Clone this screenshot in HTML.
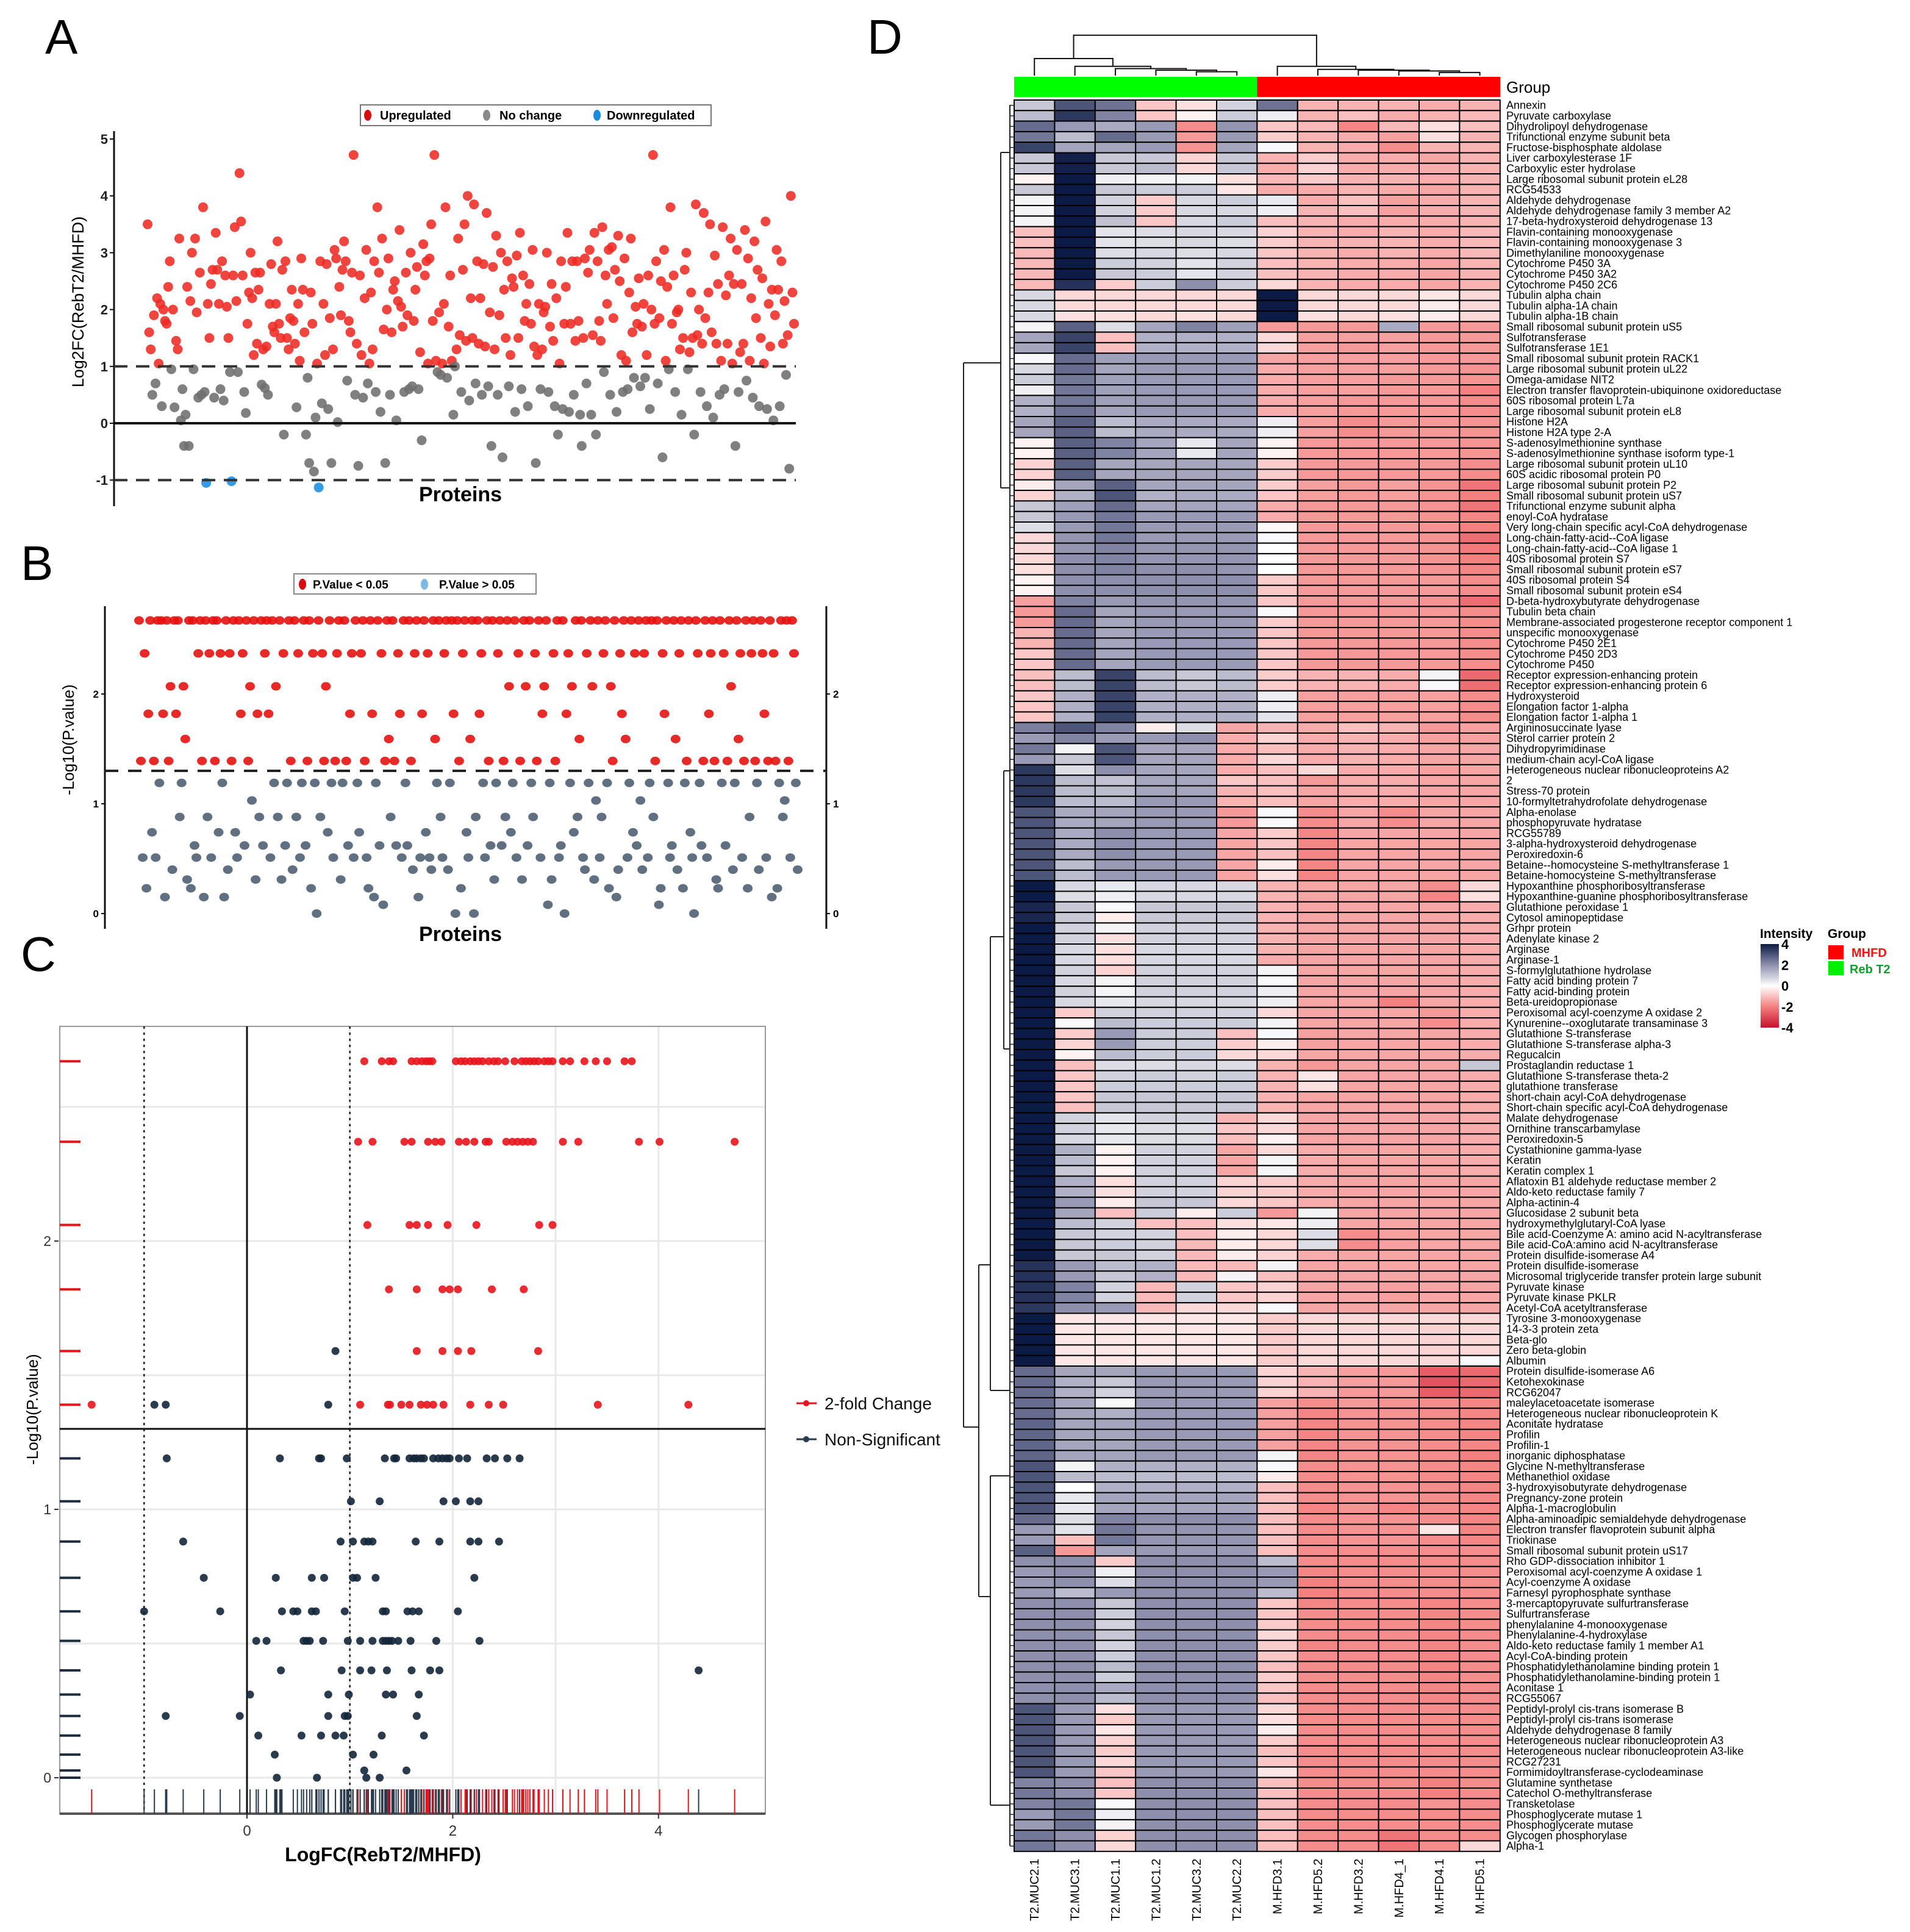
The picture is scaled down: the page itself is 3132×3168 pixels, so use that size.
<!DOCTYPE html>
<html><head><meta charset="utf-8"><style>
html,body{margin:0;padding:0;background:#fff}
svg{display:block}
text{font-family:"Liberation Sans",sans-serif}
.rl{font-family:"Liberation Sans Narrow","Liberation Sans",sans-serif;font-size:18px}
</style></head><body>
<svg id="fig" xmlns="http://www.w3.org/2000/svg" width="3132" height="3168" viewBox="0 0 3132 3168">
<rect x="0" y="0" width="3132" height="3168" fill="#fff"/>
<text x="74" y="88" font-size="80">A</text>
<text x="34" y="951" font-size="80">B</text>
<text x="34" y="1592" font-size="80">C</text>
<text x="1422" y="88" font-size="80">D</text>
<g id="gA"></g>
<g id="gB"></g>
<g id="gC"></g>
<g id="gD"></g>
</svg>
<script>
// ---------- Panel A data ----------
const aLog2FC=[3.5,1.6,1.3,0.5,1.9,0.7,2.2,1.05,2.1,0.3,2.0,1.8,1.75,2.4,2.85,0.95,2.0,0.28,1.45,1.3,
3.25,0.05,0.6,-0.4,0.15,2.4,-0.4,2.15,3.0,0.95,3.25,1.95,0.45,2.65,0.5,3.8,0.55,-1.05,2.1,1.5,
2.45,2.7,0.45,3.35,2.7,2.1,0.6,2.85,0.4,2.6,2.05,1.5,0.9,-1.02,2.6,3.45,2.15,0.9,4.4,3.55,
2.6,0.55,0.18,1.75,2.3,3.0,2.2,1.2,2.65,1.4,2.35,2.65,0.68,1.3,0.62,1.35,0.5,2.1,2.8,1.7,
1.6,2.1,3.2,1.75,1.5,2.7,-0.2,2.85,1.5,1.3,1.85,2.35,1.8,1.4,0.28,2.1,1.1,2.9,2.35,1.6,
-0.2,0.8,-0.7,2.3,1.75,-0.85,0.1,1.05,-1.13,2.85,0.35,2.1,1.2,2.8,0.25,1.85,-0.7,1.3,3.05,2.9,
0.02,2.4,1.9,2.7,3.2,2.85,0.75,1.8,1.6,2.65,4.72,0.5,1.4,-0.75,2.6,1.2,0.45,2.2,3.05,0.7,
1.05,2.3,1.3,2.85,0.55,3.8,2.65,0.2,3.25,1.65,-0.7,2.0,2.9,0.5,1.6,2.35,2.5,0.05,2.15,3.4,
2.05,1.7,0.55,2.65,1.9,0.6,3.0,0.65,1.8,2.35,2.75,0.6,1.25,-0.3,3.15,2.6,2.85,1.05,2.9,3.5,
1.8,4.72,1.1,0.9,1.95,0.85,1.05,2.1,3.8,0.8,1.7,2.6,1.1,0.15,1.0,1.3,3.25,1.55,0.55,2.7,
3.5,1.45,4.0,0.4,2.2,1.5,3.85,0.7,2.85,1.4,2.2,0.5,2.8,1.35,3.7,0.65,1.95,-0.4,2.75,1.3,
3.3,0.5,1.9,3.0,-0.6,2.35,1.5,2.85,0.65,1.2,2.55,2.4,0.2,2.95,1.5,3.35,0.6,2.6,1.8,2.1,
0.3,2.45,1.75,3.05,1.35,-0.7,1.2,2.1,0.6,1.3,1.95,2.05,3.0,0.55,1.7,2.45,1.45,0.3,2.2,-0.2,
1.05,2.85,0.25,1.75,2.4,3.35,0.2,1.75,2.85,0.5,1.45,2.85,1.8,0.15,-0.4,1.5,2.9,0.7,2.65,3.05,
0.15,1.55,3.35,-0.2,2.85,1.8,1.45,3.45,0.9,2.6,2.1,3.05,0.5,3.1,1.85,2.7,0.2,3.3,2.5,1.2,
0.55,2.9,1.1,0.6,2.3,3.25,1.6,0.8,2.05,1.75,2.55,0.65,1.7,2.1,0.8,1.2,2.6,0.25,2.0,4.72,
1.75,2.85,0.7,1.85,2.5,-0.6,3.05,1.1,2.4,0.95,3.8,1.75,2.6,0.55,1.95,2.0,1.3,0.15,1.5,2.7,
3.0,0.95,1.25,2.3,1.5,-0.2,3.85,1.55,2.0,0.55,1.4,3.7,1.85,0.3,2.3,3.5,1.6,0.1,2.95,1.4,
2.45,0.5,1.1,3.45,0.6,2.25,1.4,2.6,3.25,1.05,2.45,-0.4,3.05,0.55,1.25,2.45,1.4,3.4,0.75,2.9,
1.1,2.2,0.45,3.2,1.85,2.7,0.3,1.5,2.55,1.05,3.55,0.25,2.1,1.35,2.35,0.05,1.9,3.05,2.35,0.3,
2.85,1.4,2.15,0.85,1.55,-0.8,4.0,2.3,1.75];
const aTicks=[5,4,3,2,1,0,-1];
// ---------- Panel B data ----------
const bNegLogP=[2.67,1.39,0.51,2.37,0.23,1.82,2.67,0.74,1.39,0.51,2.67,1.19,2.67,1.82,0.15,2.67,1.39,2.07,0.4,2.67,
1.82,2.67,0.88,1.19,2.07,1.59,0.31,2.67,0.23,2.67,0.62,0.51,2.37,2.67,1.39,0.15,2.67,0.88,2.37,0.51,
2.67,1.39,2.67,0.74,2.37,1.19,0.15,2.67,0.4,2.37,1.39,2.67,0.74,0.51,2.67,1.82,2.37,0.62,2.67,1.39,
2.07,1.03,2.67,0.31,1.82,0.88,2.67,0.62,2.37,2.67,1.82,0.51,2.67,1.19,2.07,0.88,2.67,0.31,2.37,0.62,
1.19,2.67,1.39,0.4,2.67,0.88,2.37,0.51,1.19,2.67,0.62,1.39,2.67,0.23,2.37,1.19,0.0,2.67,0.88,2.37,
1.39,2.07,0.74,2.67,1.19,0.51,1.39,2.37,2.67,0.31,1.19,2.67,1.39,0.62,1.82,2.37,0.51,2.67,1.19,0.74,
2.37,2.67,1.39,0.51,0.23,2.67,1.82,0.15,1.19,2.67,0.62,2.37,0.08,1.39,2.67,1.59,0.88,2.67,1.39,0.62,
2.37,1.82,0.51,2.67,1.19,0.62,2.67,1.39,0.4,2.37,2.67,0.15,0.51,1.82,2.67,0.74,2.37,0.51,0.4,2.67,
1.59,1.19,2.67,0.88,0.51,2.37,2.67,0.4,1.19,2.67,1.82,0.0,2.67,1.39,0.23,2.37,2.67,0.74,0.51,1.59,
2.67,0.0,0.88,2.67,1.82,2.37,1.19,0.51,2.67,1.39,0.62,2.67,0.31,1.19,2.37,2.67,0.62,1.39,0.88,2.67,
2.07,0.74,1.19,2.67,0.51,2.37,1.39,0.31,2.67,2.07,0.62,2.67,1.19,0.88,2.37,1.39,2.67,0.51,1.82,2.07,
2.67,0.08,1.19,0.31,2.37,1.39,2.67,0.51,0.62,2.67,0.0,1.82,2.37,1.19,2.07,0.74,2.67,0.88,1.59,2.67,
0.51,0.4,2.37,1.19,2.67,2.07,0.31,1.03,2.67,0.51,0.88,2.37,2.67,1.19,0.23,2.07,1.39,2.67,0.15,0.4,
2.37,1.82,2.67,1.59,0.51,1.19,2.67,0.74,2.37,0.62,2.67,1.03,0.4,2.37,2.67,0.51,1.19,2.67,0.88,1.39,
2.67,0.08,0.23,2.37,1.82,2.67,1.19,0.51,0.62,2.67,1.59,0.4,2.37,2.67,0.23,1.19,1.39,2.67,0.74,0.51,
0.0,2.67,2.37,1.19,0.62,1.39,2.67,0.51,1.82,2.37,2.67,1.39,0.31,0.23,2.67,1.19,2.37,0.62,1.39,2.67,
2.07,0.4,1.19,2.67,1.59,2.37,0.51,1.39,2.67,0.23,0.88,2.37,2.67,1.39,1.19,0.4,2.67,2.37,1.82,0.51,
1.39,2.67,0.15,2.37,1.39,0.23,1.19,2.67,0.88,1.03,2.67,1.39,0.51,2.67,2.37,1.19,0.4];
const bTicks=[0,1,2];
// ---------- Panel C data ----------
const cLevels=[2.67,2.37,2.06,1.82,1.59,1.39,1.19,1.03,0.88,0.745,0.62,0.51,0.40,0.31,0.23,0.157,0.086,0.027,0];
const cFCByLevel=[
[1.14,1.31,1.38,1.42,1.60,1.65,1.70,1.74,1.77,1.80,2.03,2.08,2.12,2.17,2.21,2.25,2.29,2.35,2.40,2.44,2.51,2.60,2.67,2.71,2.75,2.79,2.83,2.89,2.93,2.97,3.07,3.14,3.28,3.39,3.50,3.67,3.74],
[1.08,1.22,1.53,1.60,1.76,1.83,1.89,2.06,2.13,2.21,2.32,2.35,2.52,2.58,2.63,2.68,2.73,2.78,3.07,3.22,3.81,4.01,4.74],
[1.17,1.58,1.65,1.76,1.95,2.23,2.84,2.97],
[1.38,1.65,1.90,1.97,2.05,2.38,2.69],
[0.86,1.65,1.90,2.05,2.18,2.83],
[-1.51,-0.90,-0.79,0.79,1.10,1.37,1.39,1.50,1.58,1.69,1.75,1.81,1.91,2.17,2.35,2.49,3.41,4.29],
[-0.78,0.32,0.70,0.72,0.97,1.34,1.43,1.45,1.58,1.62,1.65,1.69,1.72,1.81,1.86,1.90,1.94,1.97,2.06,2.14,2.33,2.41,2.53,2.65],
[1.01,1.29,1.91,2.03,2.17,2.25],
[-0.62,0.91,1.03,1.14,1.18,1.22,1.64,1.87,2.17,2.25,2.45],
[-0.42,0.28,0.63,0.75,1.03,1.07,1.25,2.21],
[-1.0,-0.26,0.34,0.45,0.49,0.63,0.67,0.95,1.32,1.35,1.56,1.61,1.67,2.05],
[0.09,0.19,0.55,0.58,0.61,0.74,0.98,1.10,1.22,1.32,1.35,1.38,1.41,1.47,1.59,1.84,2.26],
[0.33,0.92,1.10,1.21,1.36,1.60,1.78,1.87,4.39],
[0.03,0.79,0.99,1.35,1.42,1.67],
[-0.79,-0.07,0.79,0.95,0.98,1.65],
[0.11,0.53,0.72,0.86,0.94,1.31,1.72],
[0.27,1.03,1.23],
[1.14,1.55],
[0.29,0.68,1.16,1.29]];
const cXTicks=[0,2,4];
const cYTicks=[0,1,2];
const cXGrid=[1,2,3,4];
const cYGrid=[0,0.5,1,1.5,2,2.5];
const cPThreshold=1.3;
const cFCThreshold=1;
// ---------- Panel D data ----------
const dSamples=["T2.MUC2.1","T2.MUC3.1","T2.MUC1.1","T2.MUC1.2","T2.MUC3.2","T2.MUC2.2","M.HFD3.1","M.HFD5.2","M.HFD3.2","M.HFD4_1","M.HFD4.1","M.HFD5.1"];
const dGroups=["Reb T2","Reb T2","Reb T2","Reb T2","Reb T2","Reb T2","MHFD","MHFD","MHFD","MHFD","MHFD","MHFD"];
const dProteins=["Annexin","Pyruvate carboxylase","Dihydrolipoyl dehydrogenase","Trifunctional enzyme subunit beta","Fructose-bisphosphate aldolase","Liver carboxylesterase 1F","Carboxylic ester hydrolase","Large ribosomal subunit protein eL28","RCG54533","Aldehyde dehydrogenase","Aldehyde dehydrogenase family 3 member A2","17-beta-hydroxysteroid dehydrogenase 13","Flavin-containing monooxygenase","Flavin-containing monooxygenase 3","Dimethylaniline monooxygenase","Cytochrome P450 3A","Cytochrome P450 3A2","Cytochrome P450 2C6","Tubulin alpha chain","Tubulin alpha-1A chain","Tubulin alpha-1B chain","Small ribosomal subunit protein uS5","Sulfotransferase","Sulfotransferase 1E1","Small ribosomal subunit protein RACK1","Large ribosomal subunit protein uL22","Omega-amidase NIT2","Electron transfer flavoprotein-ubiquinone oxidoreductase","60S ribosomal protein L7a","Large ribosomal subunit protein eL8","Histone H2A","Histone H2A type 2-A","S-adenosylmethionine synthase","S-adenosylmethionine synthase isoform type-1","Large ribosomal subunit protein uL10","60S acidic ribosomal protein P0","Large ribosomal subunit protein P2","Small ribosomal subunit protein uS7","Trifunctional enzyme subunit alpha","enoyl-CoA hydratase","Very long-chain specific acyl-CoA dehydrogenase","Long-chain-fatty-acid--CoA ligase","Long-chain-fatty-acid--CoA ligase 1","40S ribosomal protein S7","Small ribosomal subunit protein eS7","40S ribosomal protein S4","Small ribosomal subunit protein eS4","D-beta-hydroxybutyrate dehydrogenase","Tubulin beta chain","Membrane-associated progesterone receptor component 1","unspecific monooxygenase","Cytochrome P450 2E1","Cytochrome P450 2D3","Cytochrome P450","Receptor expression-enhancing protein","Receptor expression-enhancing protein 6","Hydroxysteroid","Elongation factor 1-alpha","Elongation factor 1-alpha 1","Argininosuccinate lyase","Sterol carrier protein 2","Dihydropyrimidinase","medium-chain acyl-CoA ligase","Heterogeneous nuclear ribonucleoproteins A2","2","Stress-70 protein","10-formyltetrahydrofolate dehydrogenase","Alpha-enolase","phosphopyruvate hydratase","RCG55789","3-alpha-hydroxysteroid dehydrogenase","Peroxiredoxin-6","Betaine--homocysteine S-methyltransferase 1","Betaine-homocysteine S-methyltransferase","Hypoxanthine phosphoribosyltransferase","Hypoxanthine-guanine phosphoribosyltransferase","Glutathione peroxidase 1","Cytosol aminopeptidase","Grhpr protein","Adenylate kinase 2","Arginase","Arginase-1","S-formylglutathione hydrolase","Fatty acid binding protein 7","Fatty acid-binding protein","Beta-ureidopropionase","Peroxisomal acyl-coenzyme A oxidase 2","Kynurenine--oxoglutarate transaminase 3","Glutathione S-transferase","Glutathione S-transferase alpha-3","Regucalcin","Prostaglandin reductase 1","Glutathione S-transferase theta-2","glutathione transferase","short-chain acyl-CoA dehydrogenase","Short-chain specific acyl-CoA dehydrogenase","Malate dehydrogenase","Ornithine transcarbamylase","Peroxiredoxin-5","Cystathionine gamma-lyase","Keratin","Keratin complex 1","Aflatoxin B1 aldehyde reductase member 2","Aldo-keto reductase family 7","Alpha-actinin-4","Glucosidase 2 subunit beta","hydroxymethylglutaryl-CoA lyase","Bile acid-Coenzyme A: amino acid N-acyltransferase","Bile acid-CoA:amino acid N-acyltransferase","Protein disulfide-isomerase A4","Protein disulfide-isomerase","Microsomal triglyceride transfer protein large subunit","Pyruvate kinase","Pyruvate kinase PKLR","Acetyl-CoA acetyltransferase","Tyrosine 3-monooxygenase","14-3-3 protein zeta","Beta-glo","Zero beta-globin","Albumin","Protein disulfide-isomerase A6","Ketohexokinase","RCG62047","maleylacetoacetate isomerase","Heterogeneous nuclear ribonucleoprotein K","Aconitate hydratase","Profilin","Profilin-1","inorganic diphosphatase","Glycine N-methyltransferase","Methanethiol oxidase","3-hydroxyisobutyrate dehydrogenase","Pregnancy-zone protein","Alpha-1-macroglobulin","Alpha-aminoadipic semialdehyde dehydrogenase","Electron transfer flavoprotein subunit alpha","Triokinase","Small ribosomal subunit protein uS17","Rho GDP-dissociation inhibitor 1","Peroxisomal acyl-coenzyme A oxidase 1","Acyl-coenzyme A oxidase","Farnesyl pyrophosphate synthase","3-mercaptopyruvate sulfurtransferase","Sulfurtransferase","phenylalanine 4-monooxygenase","Phenylalanine-4-hydroxylase","Aldo-keto reductase family 1 member A1","Acyl-CoA-binding protein","Phosphatidylethanolamine binding protein 1","Phosphatidylethanolamine-binding protein 1","Aconitase 1","RCG55067","Peptidyl-prolyl cis-trans isomerase B","Peptidyl-prolyl cis-trans isomerase","Aldehyde dehydrogenase 8 family","Heterogeneous nuclear ribonucleoprotein A3","Heterogeneous nuclear ribonucleoprotein A3-like","RCG27231","Formimidoyltransferase-cyclodeaminase","Glutamine synthetase","Catechol O-methyltransferase","Transketolase","Phosphoglycerate mutase 1","Phosphoglycerate mutase","Glycogen phosphorylase","Alpha-1"];
const dValues=[
[1.0,3.0,2.5,-0.9,-0.5,0.8,2.5,-1.2,-1.2,-1.2,-1.3,-1.2],
[1.2,3.5,2.2,-0.9,-0.2,0.9,0.3,-1.2,-1.0,-1.3,-1.2,-1.1],
[2.6,1.8,1.5,1.8,-1.8,1.9,-0.9,-1.1,-1.9,-1.1,-0.5,-1.0],
[2.4,1.2,2.6,1.8,-1.6,1.8,-0.8,-1.2,-1.3,-1.5,-0.5,-1.2],
[3.3,1.6,1.6,1.8,-1.7,1.6,0.1,-1.2,-1.3,-1.8,-1.2,-1.2],
[1.0,3.9,1.0,1.0,-0.7,1.0,-1.2,-0.8,-1.3,-1.3,-1.4,-1.2],
[1.0,3.9,1.0,1.2,-0.6,1.0,-1.3,-0.7,-1.3,-1.3,-1.3,-1.2],
[-0.2,4.0,0.3,0.2,0.2,-0.5,-1.1,-0.8,-1.2,-1.2,-1.3,-1.2],
[1.0,4.0,1.0,0.9,0.9,-0.4,-1.3,-1.3,-1.2,-1.3,-1.4,-1.2],
[0.2,4.0,0.8,-0.8,0.7,0.9,0.4,-1.3,-1.0,-1.5,-1.3,-1.2],
[0.2,4.0,0.8,-0.8,0.7,0.7,0.3,-1.2,-1.0,-1.5,-1.3,-1.2],
[0.2,4.0,1.1,-0.9,0.7,0.9,-1.0,-1.2,-1.3,-1.3,-1.3,-1.2],
[-1.0,4.0,0.5,0.6,0.7,0.7,-0.7,-1.2,-1.3,-1.2,-1.3,-1.1],
[-1.0,4.0,0.5,0.6,0.7,0.6,-0.8,-1.2,-1.2,-1.2,-1.3,-1.1],
[-1.1,4.0,0.6,0.7,0.6,0.7,-0.9,-1.2,-1.3,-1.2,-1.3,-1.1],
[-1.1,4.0,0.9,0.8,0.5,0.8,-1.0,-1.2,-1.3,-1.3,-1.4,-1.2],
[-1.1,4.0,1.0,0.9,0.5,0.8,-1.0,-1.2,-1.3,-1.3,-1.4,-1.2],
[-1.1,3.6,-0.8,0.9,2.0,0.9,-0.6,-1.2,-1.3,-1.3,-1.4,-1.2],
[0.7,-0.6,-0.6,-0.6,-0.6,-0.6,4.0,-0.6,-0.6,-0.6,-0.4,-0.6],
[0.7,-0.6,-0.6,-0.6,-0.6,-0.6,4.0,-0.6,-0.6,-0.6,-0.3,-0.6],
[0.7,-0.5,-0.5,-0.6,-0.5,-0.6,4.0,-0.5,-0.6,-0.5,-0.3,-0.6],
[0.2,2.8,0.6,1.6,2.2,1.7,-1.6,-1.6,-1.6,1.5,-1.6,-1.6],
[1.6,3.3,-1.0,1.4,1.4,1.4,-0.6,-1.5,-1.5,-1.5,-1.6,-1.6],
[1.6,3.3,-1.0,1.4,1.4,1.4,-0.6,-1.5,-1.6,-1.5,-1.6,-1.6],
[0.1,2.6,1.7,1.8,1.8,1.8,-1.4,-1.5,-1.5,-1.5,-1.6,-1.6],
[0.7,2.6,1.6,1.8,1.8,1.8,-1.3,-1.5,-1.5,-1.5,-1.6,-1.7],
[0.9,2.4,1.7,1.8,1.8,1.8,-1.3,-1.5,-1.5,-1.6,-1.6,-1.7],
[0.3,2.4,1.7,1.8,1.8,1.8,-1.3,-1.5,-1.5,-1.6,-1.6,-2.0],
[1.4,2.4,1.7,1.8,1.8,1.8,-1.3,-1.5,-1.6,-1.6,-1.6,-1.8],
[1.4,2.5,1.6,1.8,1.8,1.8,-1.3,-1.5,-1.6,-1.6,-1.6,-1.8],
[1.6,2.8,1.2,1.5,1.5,1.5,0.3,-1.5,-1.8,-1.6,-1.6,-1.7],
[1.6,2.8,1.2,1.5,1.5,1.5,0.3,-1.5,-1.8,-1.6,-1.6,-1.7],
[-0.2,2.8,2.2,1.6,0.4,1.6,-0.2,-1.6,-1.6,-1.6,-1.6,-1.7],
[-0.2,2.8,2.2,1.6,0.4,1.6,-0.2,-1.6,-1.6,-1.6,-1.6,-1.7],
[-0.7,2.8,1.6,1.6,1.6,1.6,-0.8,-1.6,-1.6,-1.6,-1.6,-1.8],
[-0.7,2.8,1.6,1.6,1.6,1.6,-0.8,-1.6,-1.6,-1.6,-1.6,-1.8],
[-0.3,1.6,2.8,1.6,1.6,1.6,-0.8,-1.5,-1.6,-1.5,-1.7,-2.2],
[-0.7,1.4,3.0,1.4,1.5,1.5,-0.9,-1.5,-1.6,-1.5,-1.7,-2.0],
[1.0,1.7,2.6,1.6,1.6,1.6,-1.3,-1.6,-1.6,-1.6,-1.7,-2.2],
[1.0,1.8,2.4,1.8,1.8,1.8,-1.3,-1.6,-1.6,-1.6,-1.7,-1.9],
[0.6,1.8,2.4,1.8,1.8,1.8,-0.1,-1.6,-1.6,-1.6,-1.7,-2.0],
[-0.6,1.9,2.4,1.8,1.8,1.8,0.1,-1.6,-1.6,-1.6,-1.7,-2.3],
[-0.6,1.9,2.2,1.9,1.9,1.9,0.0,-1.6,-1.6,-1.6,-1.7,-2.1],
[-0.6,2.0,2.2,1.9,1.9,1.9,0.0,-1.6,-1.6,-1.6,-1.7,-2.0],
[-0.5,2.0,2.2,2.0,2.0,1.9,0.0,-1.6,-1.6,-1.6,-1.7,-1.9],
[-0.2,2.0,2.0,2.0,2.0,2.0,-0.8,-1.6,-1.6,-1.6,-1.6,-1.8],
[-0.2,2.0,2.0,2.0,2.0,2.0,-0.9,-1.6,-1.6,-1.6,-1.6,-1.8],
[-1.5,2.2,1.8,1.9,1.9,1.9,-0.9,-1.6,-1.6,-1.6,-1.7,-2.3],
[-1.6,2.6,1.6,1.8,1.8,1.8,0.1,-1.6,-1.6,-1.6,-1.6,-1.8],
[-1.6,2.6,1.6,1.8,1.8,1.8,-0.8,-1.6,-1.6,-1.6,-1.6,-1.8],
[-1.2,2.6,1.6,1.8,1.8,1.8,-0.9,-1.6,-1.6,-1.6,-1.6,-1.8],
[-1.2,2.6,1.6,1.8,1.8,1.8,-0.9,-1.6,-1.6,-1.6,-1.6,-1.8],
[-0.9,2.6,1.6,1.8,1.8,1.8,-0.9,-1.6,-1.6,-1.6,-1.6,-1.8],
[-0.9,2.6,1.6,1.8,1.8,1.8,-0.9,-1.6,-1.6,-1.6,-1.6,-1.8],
[-1.0,1.2,3.3,1.2,1.0,1.2,-0.8,-1.2,-1.2,-1.3,0.2,-2.4],
[-1.0,1.2,3.3,1.2,1.0,1.2,-0.8,-1.2,-1.2,-1.3,0.1,-2.3],
[-0.9,1.4,3.3,1.4,1.4,1.4,0.3,-1.5,-1.5,-1.5,-1.5,-1.8],
[-0.9,1.4,3.3,1.4,1.4,1.4,0.3,-1.5,-1.5,-1.5,-1.5,-1.8],
[-0.9,1.4,3.3,1.4,1.4,1.4,0.5,-1.5,-1.5,-1.5,-1.5,-1.8],
[2.3,3.0,2.2,-0.3,0.6,-1.4,-1.2,-1.3,-1.0,-1.2,-1.6,-1.5],
[1.8,2.2,1.8,1.8,2.0,-1.3,-0.7,-1.3,-1.2,-1.3,-1.5,-1.5],
[2.4,0.2,3.0,1.6,1.6,-1.3,-1.0,-1.3,-1.2,-1.3,-1.4,-1.4],
[1.8,1.0,3.0,1.6,1.6,-1.3,-0.6,-1.3,-1.2,-1.3,-1.4,-1.4],
[3.5,0.6,2.0,1.6,1.6,-1.3,-1.0,-0.6,-1.3,-1.3,-1.5,-1.4],
[3.5,1.2,1.1,1.6,1.6,-0.9,-1.0,-1.6,-1.3,-1.3,-1.4,-1.4],
[3.5,1.2,1.2,1.6,1.6,-1.2,-1.0,-1.4,-1.3,-1.3,-1.4,-1.4],
[3.5,1.2,1.2,1.8,1.8,-1.2,-1.0,-1.4,-1.3,-1.3,-1.4,-1.4],
[3.0,1.5,1.6,1.8,1.8,-1.6,0.1,-1.8,-1.4,-1.8,-1.4,-1.4],
[3.0,1.5,1.6,1.8,1.8,-1.6,0.1,-1.8,-1.4,-1.8,-1.4,-1.4],
[3.0,1.5,2.0,1.8,1.8,-1.4,-0.8,-1.9,-1.4,-1.4,-1.4,-1.4],
[3.0,1.5,2.0,1.8,1.8,-1.4,-0.9,-1.9,-1.4,-1.4,-1.4,-1.4],
[3.0,1.5,2.0,1.8,1.8,-1.4,-1.0,-1.9,-1.4,-1.4,-1.4,-1.4],
[3.0,1.2,1.8,1.8,1.8,-1.4,-0.3,-1.9,-1.4,-1.4,-1.4,-1.4],
[3.0,1.2,1.8,1.8,1.8,-1.4,-0.5,-1.9,-1.4,-1.4,-1.4,-1.4],
[4.0,0.7,0.4,0.7,0.7,0.7,-1.2,-1.4,-1.4,-1.4,-1.8,-0.6],
[4.0,0.6,0.3,0.7,0.7,0.7,-1.2,-1.4,-1.4,-1.4,-1.9,-0.5],
[3.8,1.0,0.1,1.0,1.0,1.0,-1.2,-1.4,-1.4,-1.4,-1.4,-1.3],
[3.8,1.0,-0.3,1.0,1.0,1.0,-1.2,-1.4,-1.4,-1.4,-1.4,-1.3],
[4.0,0.8,0.2,0.8,0.8,0.8,-1.2,-1.4,-1.4,-1.4,-1.4,-1.3],
[4.0,0.8,-0.5,0.8,0.8,0.8,-1.2,-1.4,-1.4,-1.4,-1.4,-1.3],
[4.0,0.7,-0.5,0.7,0.7,0.7,-1.2,-1.4,-1.4,-1.4,-1.4,-1.3],
[4.0,0.7,-0.5,0.7,0.7,0.7,-1.3,-1.4,-1.4,-1.4,-1.4,-1.3],
[4.0,0.8,-0.7,0.8,0.8,0.8,0.2,-1.4,-1.4,-1.4,-1.4,-1.3],
[4.0,0.7,0.2,0.8,0.8,0.8,0.1,-1.4,-1.4,-1.4,-1.4,-1.3],
[4.0,0.8,0.2,0.8,0.8,0.8,0.3,-1.4,-1.4,-1.4,-1.4,-1.3],
[4.0,0.7,0.4,0.7,0.7,0.7,0.3,-1.4,-1.4,-2.0,-1.4,-1.3],
[4.0,-0.8,0.8,0.8,0.8,0.8,-0.6,-1.4,-1.4,-1.4,-1.6,-1.3],
[4.0,0.1,1.2,0.9,0.9,0.9,0.2,-1.4,-1.4,-1.4,-1.8,-1.3],
[4.0,-0.8,1.8,0.9,0.9,-1.0,0.1,-1.5,-1.4,-1.4,-1.4,-1.3],
[4.0,-0.7,1.8,0.9,0.9,-0.8,-0.3,-1.5,-1.4,-1.4,-1.4,-1.3],
[4.0,-0.2,1.2,0.9,0.9,-0.6,-0.6,-1.4,-1.4,-1.4,-1.4,-1.3],
[4.0,-1.0,0.6,0.6,0.7,0.6,-1.2,-1.6,-1.4,-1.4,-1.4,1.0],
[4.0,-0.9,0.8,0.9,0.8,0.9,-1.2,-0.4,-1.4,-1.4,-1.4,-1.3],
[4.0,-0.9,0.9,0.9,0.9,0.9,-1.2,-0.5,-1.4,-1.4,-1.4,-1.3],
[4.0,-0.9,1.0,1.0,1.0,1.0,-1.2,-1.4,-1.4,-1.4,-1.4,-1.3],
[4.0,-1.0,1.0,1.0,1.0,1.0,-1.2,-1.4,-1.4,-1.4,-1.4,-1.3],
[4.0,0.8,0.5,0.8,0.8,-1.2,-0.6,-1.4,-1.4,-1.4,-1.4,-1.3],
[4.0,0.8,0.4,0.6,0.6,-0.9,-0.6,-1.4,-1.4,-1.4,-1.4,-1.3],
[4.0,0.7,0.4,0.6,0.6,-1.0,-0.2,-1.4,-1.4,-1.4,-1.4,-1.3],
[4.0,1.4,-0.2,0.8,0.8,-1.4,-0.6,-1.3,-1.4,-1.4,-1.4,-1.3],
[4.0,1.2,-0.2,0.8,0.8,-1.4,0.2,-1.3,-1.4,-1.4,-1.4,-1.3],
[4.0,1.0,-0.2,0.8,0.8,-1.4,0.2,-1.3,-1.4,-1.4,-1.4,-1.3],
[4.0,1.4,-0.5,0.8,0.8,-0.7,-0.8,-1.3,-1.4,-1.4,-1.4,-1.4],
[4.0,1.4,-0.5,0.8,0.8,-0.7,-0.8,-1.3,-1.4,-1.4,-1.4,-1.4],
[4.0,1.8,-0.3,1.0,1.0,-0.6,-0.9,-1.3,-1.4,-1.4,-1.4,-1.4],
[4.0,1.6,-1.0,0.9,-0.3,0.9,-1.6,0.2,-1.4,-1.4,-1.4,-1.4],
[4.0,1.2,0.8,-1.0,-1.0,-0.5,-0.4,0.3,-1.4,-1.4,-1.4,-1.4],
[4.0,1.0,0.8,0.8,-1.0,-0.3,-0.6,0.6,-1.8,-1.5,-1.4,-1.4],
[4.0,1.0,0.9,0.8,-1.1,-0.3,-0.6,0.6,-1.8,-1.5,-1.4,-1.4],
[4.0,1.0,1.0,0.8,-1.1,-0.3,-0.7,-1.3,-1.4,-1.4,-1.4,-1.4],
[3.6,1.8,1.2,1.4,-1.1,-1.1,0.2,-1.4,-1.4,-1.4,-1.4,-1.4],
[3.6,1.8,1.0,1.4,-1.1,0.2,-1.0,-1.4,-1.4,-1.4,-1.4,-1.4],
[3.6,2.2,0.8,-1.1,0.8,-0.9,-0.7,-1.4,-1.4,-1.5,-1.4,-1.4],
[3.6,2.2,0.8,-1.1,0.8,-0.9,-0.7,-1.4,-1.4,-1.5,-1.4,-1.4],
[3.5,2.0,1.8,-1.1,-0.6,-0.6,0.1,-1.4,-1.4,-1.4,-1.4,-1.4],
[4.0,-0.4,-0.4,-0.4,-0.4,-0.4,-0.8,-0.6,-0.6,-0.6,-0.6,-0.6],
[4.0,-0.4,-0.4,-0.4,-0.4,-0.4,-0.8,-0.6,-0.6,-0.6,-0.7,-0.6],
[4.0,-0.4,-0.4,-0.4,-0.4,-0.4,-0.8,-0.6,-0.6,-0.6,-0.7,-0.6],
[4.0,-0.4,-0.4,-0.4,-0.4,-0.4,-0.8,-0.6,-0.6,-0.6,-0.7,-0.6],
[4.0,-0.4,-0.4,-0.4,-0.4,-0.4,-0.8,-0.6,-0.6,-0.6,-0.6,0.1],
[2.6,1.6,1.6,1.8,1.8,1.8,-0.7,-1.2,-1.5,-1.6,-2.6,-2.4],
[2.6,1.4,1.0,1.8,1.8,1.8,-0.7,-1.2,-1.5,-1.6,-2.8,-2.4],
[2.6,1.4,0.8,1.8,1.8,1.8,-0.7,-1.2,-1.6,-1.6,-2.6,-2.4],
[2.6,1.6,0.1,1.8,1.8,1.8,-1.5,-1.8,-1.6,-1.7,-1.8,-1.9],
[2.6,1.6,1.4,1.8,1.8,1.8,-1.5,-1.9,-1.7,-1.7,-1.8,-1.9],
[2.7,1.6,1.6,1.8,1.8,1.8,-1.5,-1.9,-1.7,-1.7,-1.8,-1.9],
[2.7,1.6,1.6,1.8,1.8,1.8,-1.5,-1.9,-1.7,-1.7,-1.8,-1.9],
[2.7,1.6,1.6,1.8,1.8,1.8,-1.5,-1.9,-1.7,-1.7,-1.8,-1.9],
[2.7,1.6,1.6,1.8,1.8,1.8,0.2,-1.9,-1.7,-1.7,-1.8,-2.0],
[3.0,0.2,1.4,1.4,1.4,1.4,0.1,-1.8,-1.7,-1.7,-1.8,-1.9],
[3.0,1.2,1.2,1.2,1.2,1.2,-0.3,-1.8,-1.7,-1.7,-1.8,-1.9],
[3.0,0.0,1.4,1.4,1.4,1.4,-1.0,-1.8,-1.7,-1.7,-1.8,-1.9],
[3.0,0.4,1.6,1.6,1.6,1.6,-1.0,-1.8,-1.7,-1.7,-1.8,-1.9],
[3.0,0.4,1.6,1.6,1.6,1.6,-1.0,-1.9,-1.7,-1.9,-1.8,-1.9],
[2.6,0.6,2.2,2.0,2.0,2.0,-1.0,-1.8,-1.7,-1.7,-1.8,-1.9],
[1.8,0.5,2.4,1.9,1.9,1.9,-1.0,-1.8,-1.7,-1.7,-0.4,-1.9],
[1.8,-1.0,2.4,1.9,1.9,1.9,-1.0,-1.8,-1.7,-1.7,-1.8,-1.9],
[2.8,-1.6,1.6,1.8,1.8,1.8,-1.0,-1.8,-1.8,-1.8,-1.8,-1.8],
[2.0,2.0,-0.8,2.0,2.0,2.0,1.2,-1.8,-1.8,-1.8,-1.8,-1.8],
[1.8,2.0,0.3,2.0,2.0,2.0,1.8,-1.9,-1.8,-1.8,-1.8,-1.8],
[1.8,2.0,0.6,2.0,2.0,2.0,1.8,-2.0,-1.8,-1.8,-1.8,-1.8],
[1.8,1.2,1.8,2.0,2.0,2.0,1.2,-2.0,-1.8,-1.8,-1.8,-1.8],
[2.0,2.0,1.0,2.0,2.0,2.0,-0.9,-1.9,-1.8,-1.8,-1.9,-1.8],
[2.0,2.0,0.9,2.0,2.0,2.0,-0.9,-1.8,-1.8,-1.8,-1.9,-1.8],
[2.0,2.0,0.8,2.0,2.0,2.0,-0.8,-1.8,-1.8,-1.8,-1.9,-1.8],
[2.0,2.0,1.0,2.0,2.0,2.0,-0.6,-1.8,-1.8,-1.8,-1.9,-1.8],
[2.0,2.0,0.8,2.0,2.0,2.0,-0.8,-1.9,-1.8,-1.8,-1.9,-1.8],
[2.0,2.0,0.9,2.0,2.0,2.0,-0.9,-1.8,-1.8,-1.8,-1.9,-1.8],
[2.0,2.0,1.2,2.0,2.0,2.0,-1.0,-1.8,-1.8,-1.8,-1.9,-1.8],
[2.0,2.0,0.9,2.0,2.0,2.0,-0.8,-1.8,-1.8,-1.8,-1.9,-1.8],
[2.0,2.0,1.5,2.0,2.0,2.0,-0.9,-1.8,-1.8,-1.8,-1.9,-1.8],
[2.0,2.0,1.2,2.0,2.0,2.0,-1.0,-1.8,-1.8,-1.8,-1.9,-1.8],
[3.0,1.8,-0.5,1.8,1.8,1.8,-0.6,-1.8,-1.8,-1.8,-1.8,-1.8],
[3.0,1.8,-0.8,1.8,1.8,1.8,-0.5,-1.8,-1.8,-1.8,-1.8,-1.8],
[3.0,1.8,-0.4,1.8,1.8,1.8,-0.3,-1.8,-1.8,-1.8,-1.8,-1.8],
[3.0,1.8,-0.7,1.8,1.8,1.8,-0.8,-1.8,-1.8,-1.8,-1.8,-1.8],
[3.0,1.8,-0.8,1.8,1.8,1.8,-1.0,-1.8,-1.8,-1.8,-1.8,-1.8],
[3.0,1.8,-0.6,1.8,1.8,1.8,-0.9,-1.8,-1.8,-1.8,-1.8,-1.8],
[3.0,1.8,-0.9,1.8,1.8,1.8,-0.4,-1.8,-1.8,-1.8,-1.8,-1.8],
[2.2,2.0,-1.0,2.0,2.0,2.0,-1.0,-1.8,-1.8,-1.8,-2.0,-1.8],
[2.4,2.0,-0.9,2.0,2.0,2.0,-1.0,-1.8,-1.8,-1.8,-2.0,-1.8],
[2.2,2.4,0.1,2.0,2.0,2.0,-1.0,-1.8,-1.8,-1.8,-1.7,-1.8],
[1.8,2.4,0.3,2.0,2.0,2.0,-1.0,-1.8,-1.8,-1.8,-1.8,-1.8],
[1.8,2.4,0.2,2.0,2.0,2.0,-1.0,-1.8,-1.8,-1.8,-1.8,-1.8],
[2.4,2.0,-0.7,2.0,2.0,2.0,-1.0,-1.8,-1.8,-2.2,-1.8,-1.8],
[2.4,2.0,-0.6,2.0,2.0,2.0,-1.0,-1.8,-1.8,-2.2,-1.8,-0.6]];
// column dendrogram merges: leaves 0..11, internal nodes 12+
const dMergeA=[4,3,2,1,0,10,9,8,7,6,16];
const dMergeB=[5,12,13,14,15,11,17,18,19,20,21];
const dMergeH=[0.25,0.35,0.45,0.6,1.1,0.2,0.3,0.35,0.4,0.6,2.6];
const dLegendTicks=[4,2,0,-2,-4];

const NS='http://www.w3.org/2000/svg';
const svg=document.getElementById('fig');
function mk(tag,attrs,parent){const e=document.createElementNS(NS,tag);for(const k in attrs)e.setAttribute(k,attrs[k]);parent.appendChild(e);return e;}
function txt(s,attrs,parent){const e=mk('text',attrs,parent);e.textContent=s;return e;}

// ================= PANEL A =================
(function(){
const g=document.getElementById('gA');
const aX=i=>242+i*(1302-242)/(aLog2FC.length-1);
const aY=v=>694-93.2*v;
let e;
e=mk('line',{x1:187,y1:215,x2:187,y2:830,stroke:'#111','stroke-width':3},g);


aTicks.forEach(t=>{
 let tk=mk('line',{x1:180,y1:aY(t),x2:187,y2:aY(t),stroke:'#111','stroke-width':2},g);
 
 
 let tl=txt(String(t),{x:177,y:aY(t)+8,'text-anchor':'end','font-size':22,'font-weight':'bold',fill:'#222'},g);
 
 
});
aLog2FC.forEach((v,i)=>{
 const c=v>1?'#ee2a24':(v<-1?'#1a8ce0':'#6e6e6e');
 let d=mk('circle',{cx:aX(i),cy:aY(v),r:8,fill:c,'fill-opacity':0.88},g);
 
 
});
e=mk('line',{x1:187,y1:aY(1),x2:1305,y2:aY(1),stroke:'#333','stroke-width':4,'stroke-dasharray':'22 14'},g);


e=mk('line',{x1:187,y1:aY(-1),x2:1305,y2:aY(-1),stroke:'#333','stroke-width':4,'stroke-dasharray':'22 14'},g);


e=mk('line',{x1:187,y1:aY(0),x2:1305,y2:aY(0),stroke:'#111','stroke-width':4},g);


e=txt('Proteins',{x:755,y:822,'text-anchor':'middle','font-size':34,'font-weight':'bold'},g);


e=txt('Log2FC(RebT2/MHFD)',{x:0,y:0,'text-anchor':'middle','font-size':27,transform:'translate(137,495) rotate(-90)'},g);


e=mk('rect',{x:591,y:172,width:575,height:34,fill:'#fff',stroke:'#777','stroke-width':2},g);


const leg=[['Upregulated','#d80d0d',603,623],['No change','#8a8a8a',798,819],['Downregulated','#1a8ce0',979,995]];
leg.forEach(l=>{
 let m=mk('ellipse',{cx:l[2],cy:189,rx:6,ry:9,fill:l[1]},g);
 
 
 let t=txt(l[0],{x:l[3],y:196,'font-size':20,'font-weight':'bold'},g);
 
 
});
})();

// ================= PANEL B =================
(function(){
const g=document.getElementById('gB');
const bX=i=>228+i*(1308-228)/(bNegLogP.length-1);
const bY=v=>1498-180*v;
let e;
[172,1355].forEach((x,k)=>{
 e=mk('line',{x1:x,y1:994,x2:x,y2:1523,stroke:'#111','stroke-width':3},g);
 
 
});
bTicks.forEach(t=>{
 let a=mk('line',{x1:166,y1:bY(t),x2:172,y2:bY(t),stroke:'#111','stroke-width':2},g);
 
 
 let b=mk('line',{x1:1355,y1:bY(t),x2:1361,y2:bY(t),stroke:'#111','stroke-width':2},g);
 
 
 let l=txt(String(t),{x:162,y:bY(t)+6,'text-anchor':'end','font-size':17,'font-weight':'bold'},g);
 
 
 let r=txt(String(t),{x:1366,y:bY(t)+6,'font-size':17,'font-weight':'bold'},g);
 
 
});
bNegLogP.forEach((v,i)=>{
 const sig=v>1.3;
 let d=mk('ellipse',{cx:bX(i),cy:bY(v),rx:8,ry:7,fill:sig?'#e4120f':'#4f6173','fill-opacity':0.9},g);
 
 
});
e=mk('line',{x1:172,y1:bY(1.3),x2:1355,y2:bY(1.3),stroke:'#222','stroke-width':4,'stroke-dasharray':'22 16'},g);


e=txt('Proteins',{x:755,y:1543,'text-anchor':'middle','font-size':34,'font-weight':'bold'},g);


e=txt('-Log10(P.value)',{x:0,y:0,'text-anchor':'middle','font-size':26,transform:'translate(121,1213) rotate(-90)'},g);


e=mk('rect',{x:482,y:941,width:397,height:33,fill:'#fff',stroke:'#888','stroke-width':2},g);


[['P.Value < 0.05','#d60d0d',496,513],['P.Value > 0.05','#7dbbe6',696,720]].forEach(l=>{
 let m=mk('ellipse',{cx:l[2],cy:958,rx:6,ry:9,fill:l[1]},g);
 
 
 let t=txt(l[0],{x:l[3],y:965,'font-size':19,'font-weight':'bold'},g);
 
 
});
})();

// ================= PANEL C =================
(function(){
const g=document.getElementById('gC');
const cX=v=>405+168.7*v;
const cY=v=>2915-440*v;
const L=98,R=1255,T=1683,B=2974;
let e;
cXGrid.forEach(v=>{
 let gl=mk('line',{x1:cX(v),y1:T,x2:cX(v),y2:B,stroke:'#e8e8e8','stroke-width':3},g);
 
 
});
cYGrid.forEach(v=>{
 let gl=mk('line',{x1:L,y1:cY(v),x2:R,y2:cY(v),stroke:'#e8e8e8','stroke-width':3},g);
 
 
});
e=mk('rect',{x:L,y:T,width:R-L,height:B-T,fill:'none',stroke:'#999','stroke-width':2},g);


e=mk('line',{x1:L,y1:B,x2:R,y2:B,stroke:'#555','stroke-width':4},g);


[-cFCThreshold,cFCThreshold].forEach(v=>{
 let d=mk('line',{x1:cX(v),y1:T,x2:cX(v),y2:B,stroke:'#222','stroke-width':2.5,'stroke-dasharray':'4 6'},g);
 
 
});
e=mk('line',{x1:cX(0),y1:T,x2:cX(0),y2:B,stroke:'#111','stroke-width':3},g);


e=mk('line',{x1:L,y1:cY(cPThreshold),x2:R,y2:cY(cPThreshold),stroke:'#111','stroke-width':3},g);


cLevels.forEach((lv,k)=>{
 const up=lv>cPThreshold;
 let r=mk('line',{x1:L,y1:cY(lv),x2:L+34,y2:cY(lv),stroke:up?'#e8141c':'#1c2e40','stroke-width':4},g);
 
 
 cFCByLevel[k].forEach(fc=>{
  const red=up&&Math.abs(fc)>cFCThreshold;
  let rg=mk('line',{x1:cX(fc),y1:2934,x2:cX(fc),y2:B,stroke:red?'#e8141c':'#2a3b4e','stroke-width':2},g);
  
  
 });
});
cLevels.forEach((lv,k)=>{
 const up=lv>cPThreshold;
 cFCByLevel[k].forEach(fc=>{
  const red=up&&Math.abs(fc)>cFCThreshold;
  let d=mk('circle',{cx:cX(fc),cy:cY(lv),r:6.5,fill:red?'#e8141c':'#13263a','fill-opacity':0.9},g);
  
  
 });
});
cYTicks.forEach(t=>{
 let tk=mk('line',{x1:89,y1:cY(t),x2:96,y2:cY(t),stroke:'#333','stroke-width':2},g);
 
 
 let tl=txt(String(t),{x:84,y:cY(t)+8,'text-anchor':'end','font-size':23,fill:'#333'},g);
 
 
});
cXTicks.forEach(t=>{
 let tk=mk('line',{x1:cX(t),y1:B,x2:cX(t),y2:B+8,stroke:'#333','stroke-width':2},g);
 
 
 let tl=txt(String(t),{x:cX(t),y:B+36,'text-anchor':'middle','font-size':24,fill:'#333'},g);
 
 
});
e=txt('LogFC(RebT2/MHFD)',{x:628,y:3052,'text-anchor':'middle','font-size':32,'font-weight':'bold'},g);


e=txt('-Log10(P.value)',{x:0,y:0,'text-anchor':'middle','font-size':26,transform:'translate(62,2311) rotate(-90)'},g);


[['2-fold Change','#e8141c',2301],['Non-Significant','#2a3b4e',2360]].forEach(l=>{
 let ln=mk('line',{x1:1306,y1:l[2],x2:1339,y2:l[2],stroke:l[1],'stroke-width':3},g);
 
 
 let dm=mk('circle',{cx:1322,cy:l[2],r:5,fill:l[1]},g);
 
 
 let t=txt(l[0],{x:1352,y:l[2]+10,'font-size':28,fill:'#111'},g);
 
 
});
})();

// ================= PANEL D =================
(function(){
const g=document.getElementById('gD');
const X0=1663,CW=66.4,Y0=164,RH=17.3;
const colX=i=>X0+i*CW;
const rowY=r=>Y0+r*RH;
const stops=[[-4,[200,16,46]],[-2,[244,128,128]],[0,[255,255,255]],[2,[142,143,173]],[4,[12,27,69]]];
function col(v){
 v=Math.max(-4,Math.min(4,v));
 for(let k=0;k<stops.length-1;k++){
  const a=stops[k],b=stops[k+1];
  if(v>=a[0]&&v<=b[0]){const t=(v-a[0])/(b[0]-a[0]);const c=a[1].map((x,j)=>Math.round(x+(b[1][j]-x)*t));return 'rgb('+c.join(',')+')';}
 }
 return '#fff';
}
let e;
dGroups.forEach((gr,i)=>{
 let r=mk('rect',{x:colX(i),y:126,width:CW+0.5,height:33,fill:gr==='MHFD'?'#ff0000':'#00ff00'},g);
 
 
});
e=txt('Group',{x:2470,y:152,'font-size':26},g);


dValues.forEach((row,r)=>{
 row.forEach((v,c)=>{
  let cell=mk('rect',{x:colX(c),y:rowY(r),width:CW,height:RH,fill:col(v),stroke:'#000','stroke-width':2},g);
  
  
 });
});
dProteins.forEach((p,r)=>{
 let t=txt(p,{x:2470,y:rowY(r)+RH/2+6,'class':'rl'},g);
 
 
});
dSamples.forEach((s,i)=>{
 const cx=colX(i)+CW/2;
 let t=txt(s,{x:0,y:0,'text-anchor':'end','font-size':20,transform:'translate('+(cx+7)+','+(Y0+dValues.length*RH+12)+') rotate(-90)'},g);
 
 
});
const nodeX=[],nodeH=[];
for(let i=0;i<12;i++){nodeX[i]=colX(i)+CW/2;nodeH[i]=0;}
const hy=h=>124-h*25.5;
dMergeA.forEach((a,k)=>{
 const b=dMergeB[k],h=dMergeH[k],n=12+k;
 nodeX[n]=(nodeX[a]+nodeX[b])/2;nodeH[n]=h;
 let p=mk('path',{d:'M'+nodeX[a]+','+hy(nodeH[a])+'V'+hy(h)+'H'+nodeX[b]+'V'+hy(nodeH[b]),fill:'none',stroke:'#111','stroke-width':2},g);
 
 
});
const segs=[[1580,595,1580,2340],[1580,595,1641,595],[1641,250,1641,800],[1641,250,1656,250],[1641,800,1656,800],[1580,2340,1605,2340],[1605,2074,1605,2618],[1605,2074,1624,2074],[1605,2618,1624,2618],[1624,1536,1624,2280],[1624,1536,1646,1536],[1646,1264,1646,1720],[1646,1264,1656,1264],[1646,1720,1656,1720],[1624,2280,1656,2280],[1624,2420,1624,2960],[1624,2420,1656,2420],[1624,2960,1656,2960]];
segs.forEach(s=>{
 let l=mk('line',{x1:s[0],y1:s[1],x2:s[2],y2:s[3],stroke:'#222','stroke-width':2},g);
 
 
});
e=mk('line',{x1:1656,y1:rowY(0)+8,x2:1656,y2:rowY(dValues.length-1)+8,stroke:'#222','stroke-width':2},g);


dProteins.forEach((p,r)=>{
 let s=mk('line',{x1:1656,y1:rowY(r)+RH/2,x2:1663,y2:rowY(r)+RH/2,stroke:'#222','stroke-width':1.5},g);
 
 
});
const defs=mk('defs',{},g);
const lg=mk('linearGradient',{id:'intGrad',x1:0,y1:0,x2:0,y2:1},defs);
dLegendTicks.forEach((v,k)=>{mk('stop',{offset:(k/(dLegendTicks.length-1)),'stop-color':col(v)},lg);});
e=txt('Intensity',{x:2886,y:1538,'font-size':21,'font-weight':'bold'},g);


e=mk('rect',{x:2887,y:1548,width:30,height:137,fill:'url(#intGrad)'},g);


const ly=v=>1548+(4-v)/8*137;
dLegendTicks.forEach(v=>{
 let t=txt(String(v),{x:2921,y:ly(v)+8,'font-size':22,'font-weight':'bold'},g);
 
 
});
e=txt('Group',{x:2997,y:1538,'font-size':21,'font-weight':'bold'},g);


e=mk('rect',{x:2998,y:1550,width:25,height:23,fill:'#ff0000'},g);


e=txt('MHFD',{x:3036,y:1569,'font-size':20,'font-weight':'bold',fill:'#ff1010'},g);


e=mk('rect',{x:2998,y:1576,width:25,height:23,fill:'#00ee00'},g);


e=txt('Reb T2',{x:3033,y:1596,'font-size':20,'font-weight':'bold',fill:'#10a030'},g);


})();
</script>
</body></html>
